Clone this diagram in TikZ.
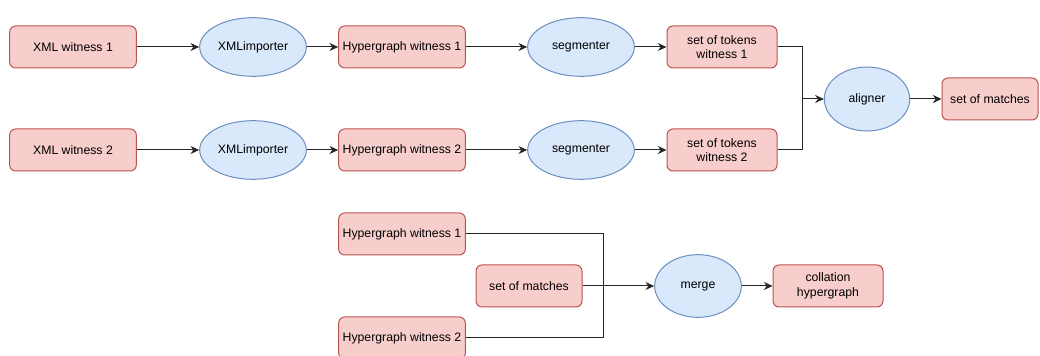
\documentclass[tikz,border=0pt]{standalone}
\usepackage{xcolor}
\usepackage{fontspec}
\setmainfont{Liberation Sans}
\usetikzlibrary{arrows.meta, shapes.geometric}

\definecolor{boxfill}{HTML}{F8CECC}
\definecolor{boxline}{HTML}{B85450}
\definecolor{ovalfill}{HTML}{DAE8FC}
\definecolor{ovalline}{HTML}{6C8EBF}

\tikzset{
	databox/.style={rectangle, rounded corners=4.5pt, draw=boxline, fill=boxfill, line width=0.75pt,
		minimum width=95pt, minimum height=31.5pt, inner sep=0pt, align=center,
		font=\fontsize{9.2}{11}\selectfont},
	stepoval/.style={ellipse, draw=ovalline, fill=ovalfill, line width=0.75pt,
		minimum width=80pt, minimum height=44pt, inner sep=0pt,
		font=\fontsize{9.2}{11}\selectfont},
	flow/.style={line width=0.75pt, draw=black!85},
	arr/.style={flow, -{Stealth[length=6.5pt, width=6pt]}},
}

\begin{document}
\begin{tikzpicture}[x=0.75pt, y=-0.75pt]
	\useasboundingbox (0,0) rectangle (1040,356);

	% Define the nodes of the two witness rows
	\node[databox] (w1) at (73, 47) {XML witness 1};
	\node[stepoval] (i1) at (253, 47) {XMLimporter};
	\node[databox] (h1) at (402, 47) {Hypergraph witness 1};
	\node[stepoval] (s1) at (581, 47) {segmenter};
	\node[databox, minimum width=82.5pt] (t1) at (722, 47) {set of tokens\\witness 1};

	\node[databox] (w2) at (73, 150) {XML witness 2};
	\node[stepoval] (i2) at (253, 150) {XMLimporter};
	\node[databox] (h2) at (402, 150) {Hypergraph witness 2};
	\node[stepoval] (s2) at (581, 150) {segmenter};
	\node[databox, minimum width=82.5pt] (t2) at (722, 150) {set of tokens\\witness 2};

	\node[stepoval, minimum width=64pt, minimum height=48pt] (al) at (867, 99) {aligner};
	\node[databox, minimum width=72pt] (sm) at (990, 99) {set of matches};
	\coordinate (j1) at (802, 99);

	% Define the nodes of the merge step
	\node[databox] (hb1) at (402, 234) {Hypergraph witness 1};
	\node[databox, minimum width=79.5pt] (mb) at (529, 286) {set of matches};
	\node[databox] (hb2) at (402, 338) {Hypergraph witness 2};
	\node[stepoval, minimum width=65pt, minimum height=47pt] (mg) at (698, 286) {merge};
	\node[databox, minimum width=82.5pt] (ch) at (828, 286) {collation\\hypergraph};
	\coordinate (j2) at (603, 286);

	% Draw the connectors
	\draw[arr] (w1) -- (i1);
	\draw[arr] (i1) -- (h1);
	\draw[arr] (h1) -- (s1);
	\draw[arr] (s1) -- (t1);
	\draw[arr] (w2) -- (i2);
	\draw[arr] (i2) -- (h2);
	\draw[arr] (h2) -- (s2);
	\draw[arr] (s2) -- (t2);
	\draw[flow] (t1) -| (j1);
	\draw[flow] (t2) -| (j1);
	\draw[arr] (j1) -- (al);
	\draw[arr] (al) -- (sm);

	\draw[flow] (hb1) -| (j2);
	\draw[flow] (hb2) -| (j2);
	\draw[arr] (mb) -- (mg);
	\draw[arr] (mg) -- (ch);
\end{tikzpicture}
\end{document}
